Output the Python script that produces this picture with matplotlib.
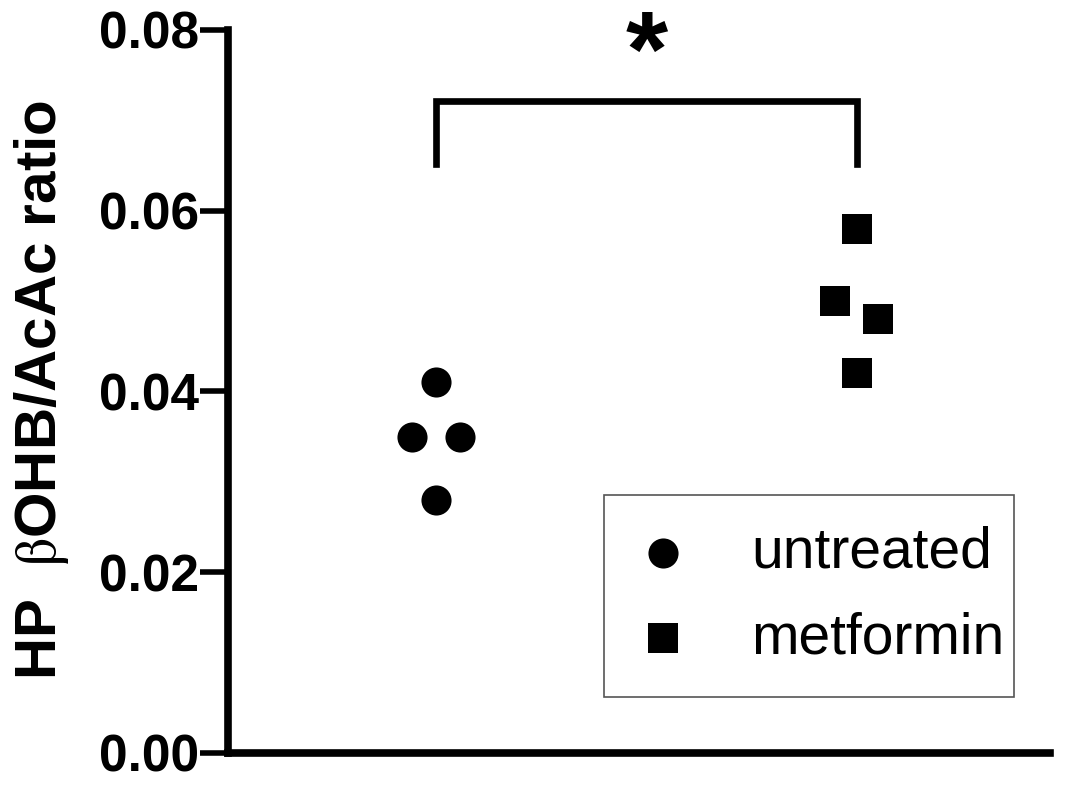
import matplotlib
matplotlib.use("Agg")
import matplotlib.pyplot as plt
from matplotlib.patches import Rectangle

# values
groups = ["untreated", "metformin"]
group_pos = [0, 2.02]
untreated = [0.041, 0.035, 0.035, 0.028]
untreated_off = [0, -0.115, 0.115, 0]
metformin = [0.058, 0.050, 0.048, 0.042]
metformin_off = [0, -0.105, 0.105, 0]
yticks = [0.00, 0.02, 0.04, 0.06, 0.08]
bracket_top = 0.0721
bracket_low = 0.0651

plt.rcParams['font.family'] = ['Liberation Sans', 'DejaVu Sans']
plt.rcParams['mathtext.fontset'] = 'stix'

fig = plt.figure(figsize=(10.65, 7.85), dpi=100)
ax = fig.add_axes([0.214, 0.041, 0.772, 0.921])

ax.scatter([group_pos[0] + o for o in untreated_off], untreated, marker="o",
           s=470, color="black", label=groups[0], zorder=3, linewidths=0)
ax.scatter([group_pos[1] + o for o in metformin_off], metformin, marker="s",
           s=470, color="black", label=groups[1], zorder=3, linewidths=0)

# significance bracket
ax.plot([group_pos[0], group_pos[0], group_pos[1], group_pos[1]],
        [bracket_low, bracket_top, bracket_top, bracket_low],
        color="black", lw=4.8, solid_joinstyle="miter", clip_on=False)
ax.text((group_pos[0] + group_pos[1]) / 2, 0.0738, "*", ha="center", va="baseline",
        fontsize=78, fontweight="bold")

ax.set_xlim(-1.0, 2.95)
ax.set_ylim(0, 0.08)
ax.set_yticks(yticks)
ax.set_yticklabels(["%.2f" % v for v in yticks], fontsize=37, fontweight="bold")
ax.set_xticks([])
ax.spines["top"].set_visible(False)
ax.spines["right"].set_visible(False)
ax.spines["left"].set_linewidth(5.5)
ax.spines["bottom"].set_linewidth(5.5)
ax.tick_params(axis="y", length=20, width=4, pad=1)

fig.text(0.039, 0.503, r"HP  $\mathrm{\beta}$OHB/AcAc ratio", rotation=90,
         ha="center", va="center", fontsize=42, fontweight="bold")

# legend entries without frame, box drawn separately
leg = ax.legend(loc="upper left", bbox_to_anchor=(0.494, 0.314), borderaxespad=0,
                fontsize=41, frameon=False, handlelength=1.0, handletextpad=1.05,
                borderpad=0, labelspacing=0.55, markerscale=1.0, scatterpoints=1)
ax.add_patch(Rectangle((0.457, 0.0775), 0.499, 0.279, transform=ax.transAxes,
                       fill=False, edgecolor="#555555", lw=1.2, zorder=2))

fig.savefig("out.png", dpi=100)
